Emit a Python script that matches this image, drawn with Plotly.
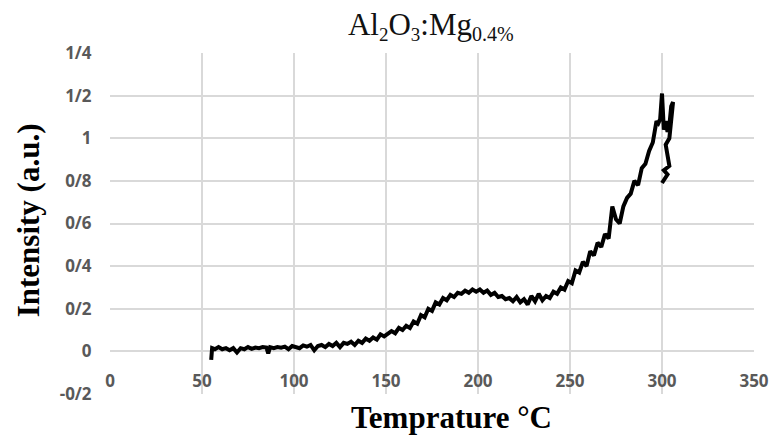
import plotly.graph_objects as go

temperature = [55, 55.5, 57, 59, 61, 63, 65, 67, 69, 71, 73, 75, 77, 79, 81, 83, 85, 86, 87, 89,
               91, 93, 95, 97, 99, 101, 103, 105, 107, 109, 111, 113, 115, 117, 119, 121, 123, 125, 127, 129,
               131, 133, 135, 137, 139, 141, 143, 145, 147, 149, 151, 153, 155, 157, 159, 161, 163, 165, 167, 169,
               171, 173, 175, 177, 179, 181, 183, 185, 187, 189, 191, 193, 195, 197, 199, 201, 203, 205, 207, 209,
               211, 213, 215, 217, 219, 221, 223, 225, 227, 229, 231, 233, 235, 237, 239, 241, 243, 245, 247, 249,
               251, 253, 255, 257, 259, 261, 263, 265, 267, 269, 271, 273, 275, 277, 279, 281, 283, 285, 287, 289,
               291, 293, 295, 297, 298, 299, 300, 301, 302, 303, 304, 305, 306, 304, 302, 303, 304, 301, 303, 300]
intensity = [-0.04, 0.015, 0.01, 0.02, 0.01, 0.015, 0.005, 0.015, -0.005, 0.015, 0.01, 0.02, 0.012, 0.018, 0.015, 0.02, 0.018, -0.01, 0.02, 0.015,
             0.02, 0.017, 0.022, 0.01, 0.025, 0.02, 0.015, 0.028, 0.022, 0.03, 0.005, 0.025, 0.03, 0.02, 0.035, 0.025, 0.04, 0.02, 0.04, 0.035,
             0.045, 0.03, 0.05, 0.04, 0.06, 0.05, 0.065, 0.055, 0.08, 0.07, 0.085, 0.095, 0.085, 0.11, 0.1, 0.12, 0.11, 0.14, 0.13, 0.17,
             0.16, 0.2, 0.19, 0.23, 0.22, 0.25, 0.24, 0.265, 0.255, 0.275, 0.27, 0.285, 0.275, 0.29, 0.28, 0.29, 0.275, 0.285, 0.265, 0.275,
             0.255, 0.26, 0.245, 0.25, 0.235, 0.255, 0.23, 0.245, 0.22, 0.26, 0.235, 0.27, 0.24, 0.26, 0.25, 0.28, 0.27, 0.3, 0.29, 0.33,
             0.32, 0.38, 0.37, 0.42, 0.4, 0.47, 0.45, 0.51, 0.49, 0.55, 0.53, 0.68, 0.62, 0.6, 0.68, 0.72, 0.74, 0.8, 0.78, 0.86,
             0.88, 0.94, 0.98, 1.08, 1.07, 1.09, 1.21, 1.04, 1.08, 1.03, 1.06, 1.15, 1.17, 1.0, 0.97, 0.91, 0.87, 0.85, 0.83, 0.79]

x_ticks = [0, 50, 100, 150, 200, 250, 300, 350]
y_ticks = [-0.2, 0, 0.2, 0.4, 0.6, 0.8, 1.0, 1.2, 1.4]
y_tick_labels = ["-0/2", "0", "0/2", "0/4", "0/6", "0/8", "1", "1/2", "1/4"]

fig = go.Figure()
fig.add_trace(go.Scatter(x=temperature, y=intensity, mode="lines",
                         line=dict(color="black", width=4), showlegend=False))

tick_font = dict(family="Open Sans, Liberation Sans, sans-serif", size=17, color="#595959", weight="bold")

title_text = ("Al<sub><span style='font-size:19px'>2</span></sub>O<sub><span style='font-size:19px'>3</span></sub>"
              ":Mg<sub><span style='font-size:20px'>0.4%</span></sub>")

fig.update_layout(
    width=773, height=431,
    margin=dict(l=102, r=18, t=45, b=45),
    paper_bgcolor="white", plot_bgcolor="white",
    title=dict(text=title_text,
               x=0.547, xanchor="center", y=0.963, yanchor="middle", yref="container",
               font=dict(family="Liberation Serif, serif", size=31, color="#111111")),
    xaxis=dict(range=[0, 350], tickvals=x_ticks, showgrid=True, gridcolor="#d9d9d9", gridwidth=1.5,
               zeroline=False, showline=False, anchor="free", position=0.1232,
               ticks="outside", ticklen=14, tickcolor="rgba(0,0,0,0)", tickfont=tick_font),
    yaxis=dict(range=[-0.2, 1.4], tickvals=y_ticks, ticktext=y_tick_labels, showgrid=True,
               gridcolor="#d9d9d9", gridwidth=1.5, zeroline=False, showline=False,
               ticks="outside", ticklen=14, tickcolor="rgba(0,0,0,0)", tickfont=tick_font),
    annotations=[
        dict(text="Temprature °C", xref="paper", yref="paper", x=0.53, y=-0.07,
             xanchor="center", yanchor="middle", showarrow=False,
             font=dict(family="Liberation Serif, serif", size=31, color="black", weight="bold")),
        dict(text="Intensity (a.u.)", xref="paper", yref="paper", x=-0.127, y=0.51,
             xanchor="center", yanchor="middle", showarrow=False, textangle=-90,
             font=dict(family="Liberation Serif, serif", size=31, color="black", weight="bold")),
    ],
)

fig.write_html("out.html")
